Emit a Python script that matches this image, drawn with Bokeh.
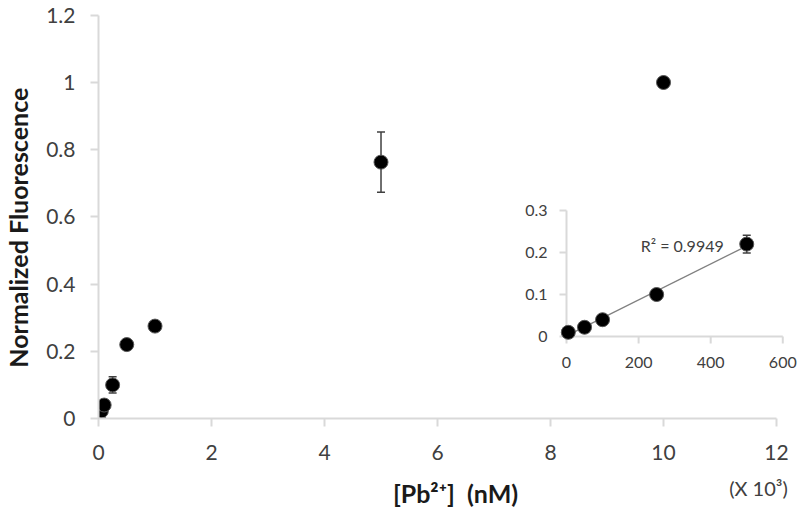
import numpy as np
from bokeh.plotting import figure
from bokeh.layouts import column
from bokeh.models import Range1d, FixedTicker, ColumnDataSource
from bokeh.core.properties import value
from bokeh.embed import file_html
from bokeh.resources import INLINE

# ---- data ----
conc_main = [0, 0.005, 0.05, 0.1, 0.25, 0.5, 1, 5, 10]          # [Pb2+] in 10^3 nM
fluor_main = [0.002, 0.01, 0.022, 0.04, 0.1, 0.22, 0.275, 0.763, 1.0]
err_main = [0.004, 0.004, 0.004, 0.005, 0.024, 0.012, 0.008, 0.09, 0.0]

conc_inset = [5, 50, 100, 250, 500]                                # nM
fluor_inset = [0.01, 0.022, 0.04, 0.1, 0.22]
err_inset = [0.004, 0.004, 0.005, 0.008, 0.021]

x_ticks = [0, 2, 4, 6, 8, 10, 12]
y_ticks = [0, 0.2, 0.4, 0.6, 0.8, 1.0, 1.2]
y_tick_labels = ["0", "0.2", "0.4", "0.6", "0.8", "1", "1.2"]
inset_x_ticks = [0, 200, 400, 600]
inset_x_labels = ["0", "200", "400", "600"]
inset_y_ticks = [0, 0.1, 0.2, 0.3]
inset_y_labels = ["0", "0.1", "0.2", "0.3"]
r2_text = "R² = 0.9949"
y_title = "Normalized Fluorescence"
x_title = "[Pb²⁺]\u00a0\u00a0(nM)"
x_mult = "(X 10³)"

FONT = "Lato"
AXIS = "#d9d9d9"
TXT = "#404040"
TITLE = "#1a1a1a"
NB = "\u00a0"

p = figure(width=800, height=465,
           x_range=Range1d(0, 12.389), y_range=Range1d(0, 1.2262),
           output_backend="svg", toolbar_location=None,
           min_border_left=98, min_border_right=2, min_border_top=6, min_border_bottom=47)
p.outline_line_color = None
p.grid.visible = False
p.background_fill_color = "white"
p.border_fill_color = "white"

for ax in (p.xaxis[0], p.yaxis[0]):
    ax.axis_line_color = AXIS
    ax.axis_line_width = 2
    ax.major_tick_line_color = AXIS
    ax.major_tick_line_width = 2
    ax.major_tick_out = 8
    ax.major_tick_in = 0
    ax.minor_tick_line_color = None
    ax.major_label_text_font = FONT
    ax.major_label_text_font_size = "21px"
    ax.major_label_text_color = TXT
    ax.axis_label_text_font = FONT
    ax.axis_label_text_font_style = "bold"
    ax.axis_label_text_font_size = "25px"
    ax.axis_label_text_color = TITLE

p.xaxis[0].ticker = FixedTicker(ticks=x_ticks)
p.xaxis[0].bounds = (0, 12)
p.xaxis[0].major_label_standoff = 18
p.yaxis[0].ticker = FixedTicker(ticks=y_ticks)
p.yaxis[0].bounds = (0, 1.2)
p.yaxis[0].major_label_standoff = 15
p.yaxis[0].major_label_overrides = {float(t): l for t, l in zip(y_ticks, y_tick_labels)}
p.yaxis[0].axis_label = y_title + NB * 5
p.yaxis[0].axis_label_standoff = 10

# ---- main series ----
src = ColumnDataSource(dict(x=conc_main, y=fluor_main,
                            lo=[v - e for v, e in zip(fluor_main, err_main)],
                            hi=[v + e for v, e in zip(fluor_main, err_main)]))
p.segment(x0="x", y0="lo", x1="x", y1="hi", source=src, line_color="#404040", line_width=1.5)
p.scatter(x="x", y="lo", source=src, marker="dash", size=8, line_color="#404040", line_width=1.5)
p.scatter(x="x", y="hi", source=src, marker="dash", size=8, line_color="#404040", line_width=1.5)
p.scatter(x="x", y="y", source=src, marker="circle", size=14,
          fill_color="black", line_color="#555555", line_width=1)

# ---- inset ----
ins = p.subplot(x_source=Range1d(0, 600), y_source=Range1d(0, 0.3),
                x_target=Range1d(8.283, 12.111), y_target=Range1d(0.2440, 0.6190))

ins.segment(x0=[0, 0], y0=[0, 0], x1=[600, 0], y1=[0, 0.3], line_color=AXIS, line_width=2)
ins.ray(x=inset_x_ticks, y=[0] * len(inset_x_ticks), length=7, length_units="screen",
        angle=-np.pi / 2, line_color=AXIS, line_width=2)
ins.ray(x=[0] * len(inset_y_ticks), y=inset_y_ticks, length=7, length_units="screen",
        angle=np.pi, line_color=AXIS, line_width=2)
ins.text(x=inset_x_ticks, y=[0] * len(inset_x_ticks), text=inset_x_labels,
         y_offset=26, text_align="center", text_baseline="middle",
         text_font=value(FONT), text_font_size="16px", text_color=TXT)
ins.text(x=[0] * len(inset_y_ticks), y=inset_y_ticks, text=inset_y_labels,
         x_offset=-19, text_align="right", text_baseline="middle",
         text_font=value(FONT), text_font_size="16px", text_color=TXT)

coef = np.polyfit(conc_inset, fluor_inset, 1)
fx = np.array([min(conc_inset), max(conc_inset)])
ins.line(x=fx, y=np.polyval(coef, fx), line_color="#808080", line_width=1.3)

isrc = ColumnDataSource(dict(x=conc_inset, y=fluor_inset,
                             lo=[v - e for v, e in zip(fluor_inset, err_inset)],
                             hi=[v + e for v, e in zip(fluor_inset, err_inset)]))
ins.segment(x0="x", y0="lo", x1="x", y1="hi", source=isrc, line_color="#404040", line_width=1.5)
ins.scatter(x="x", y="lo", source=isrc, marker="dash", size=8, line_color="#404040", line_width=1.5)
ins.scatter(x="x", y="hi", source=isrc, marker="dash", size=8, line_color="#404040", line_width=1.5)
ins.scatter(x="x", y="y", source=isrc, marker="circle", size=14,
            fill_color="black", line_color="#555555", line_width=1)

ins.text(x=[321], y=[0.2167], text=[r2_text], text_align="center", text_baseline="middle",
         text_font=value(FONT), text_font_size="16px", text_color=TXT)

# ---- strip below the chart holding the x title and the multiplier note (page pixel coords) ----
lab = figure(width=800, height=50, x_range=Range1d(98, 798), y_range=Range1d(515, 465),
             output_backend="svg", toolbar_location=None,
             min_border_left=98, min_border_right=2, min_border_top=0, min_border_bottom=0,
             x_axis_location=None, y_axis_location=None)
lab.outline_line_color = None
lab.grid.visible = False
lab.text(x=[455], y=[492], text=[x_title], text_align="center", text_baseline="middle",
         text_font=value(FONT), text_font_style="bold", text_font_size="25px", text_color=TITLE)
lab.text(x=[758], y=[487], text=[x_mult], text_align="center", text_baseline="middle",
         text_font=value(FONT), text_font_size="20px", text_color=TXT)

open("out.html", "w").write(file_html(column(p, lab, spacing=0), INLINE))
